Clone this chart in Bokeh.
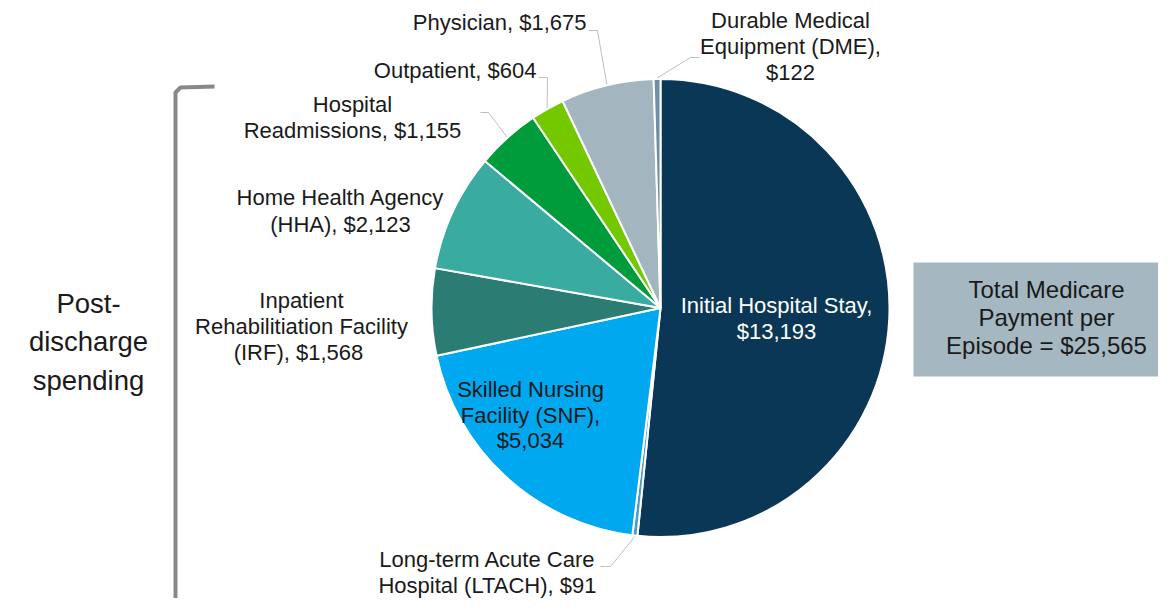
import math
from bokeh.plotting import figure
from bokeh.models import Range1d, ColumnDataSource
from bokeh.core.properties import value
from bokeh.embed import file_html
from bokeh.resources import INLINE

# ---- data ----
categories = ["Initial Hospital Stay", "Long-term Acute Care Hospital (LTACH)",
              "Skilled Nursing Facility (SNF)", "Inpatient Rehabilitiation Facility (IRF)",
              "Home Health Agency (HHA)", "Hospital Readmissions", "Outpatient",
              "Physician", "Durable Medical Equipment (DME)"]
payments = [13193, 91, 5034, 1568, 2123, 1155, 604, 1675, 122]
colors = ["#0A3756", "#4A9BD0", "#00A8F0", "#2B7D74", "#3AABA0",
          "#009B3A", "#73C800", "#A3B5BF", "#6F8EA3"]
label_lines = [
    ["Initial Hospital Stay,", "$13,193"],
    ["Long-term Acute Care", "Hospital (LTACH), $91"],
    ["Skilled Nursing", "Facility (SNF),", "$5,034"],
    ["Inpatient", "Rehabilitiation Facility", "(IRF),  $1,568"],
    ["Home Health Agency", "(HHA), $2,123"],
    ["Hospital", "Readmissions, $1,155"],
    ["Outpatient, $604"],
    ["Physician, $1,675"],
    ["Durable Medical", "Equipment (DME),", "$122"],
]
total_text = ["Total Medicare", "Payment per", "Episode = $25,565"]
side_text = ["Post-", "discharge", "spending"]

# ---- layout (picture pixel coords -> data: x = px, y = H - py) ----
W, H = 1158, 598
def Y(py):
    return H - py

p = figure(width=W, height=H, output_backend="svg", toolbar_location=None,
           x_range=Range1d(0, W), y_range=Range1d(0, H),
           x_axis_type=None, y_axis_type=None, min_border=0)
p.grid.visible = False
p.outline_line_color = None
p.background_fill_color = "white"
p.border_fill_color = "white"

FONT = value("Liberation Sans")
cx, cy, R = 660, Y(307.5), 229

total = sum(payments)
starts, ends, mids = [], [], []
acc = 0.0
for v in payments:
    a0 = math.pi / 2 - acc / total * 2 * math.pi
    acc += v
    a1 = math.pi / 2 - acc / total * 2 * math.pi
    starts.append(a0); ends.append(a1); mids.append((a0 + a1) / 2)

src = ColumnDataSource(dict(start=starts, end=ends, color=colors, cat=categories))
p.wedge(x=cx, y=cy, radius=R, radius_units="screen", start_angle="start", end_angle="end",
        direction="clock", fill_color="color", line_color="white", line_width=2, source=src)

# label placement: (x, first line page-y, line step, align, text color)
placement = {
    0: (776, 305, 26, "center", "white"),
    1: (487, 559, 25.5, "center", "#1a1a1a"),
    2: (530, 389, 25.5, "center", "#1a1a1a"),
    3: (301, 300, 26, "center", "#1a1a1a"),
    4: (340, 197, 27, "center", "#1a1a1a"),
    5: (352, 104, 26, "center", "#1a1a1a"),
    6: (536, 70, 26, "right", "#1a1a1a"),
    7: (586, 22, 26, "right", "#1a1a1a"),
    8: (790, 20, 26, "center", "#1a1a1a"),
}
for i, lines in enumerate(label_lines):
    x, y0, step, align, col = placement[i]
    xs = [x] * len(lines)
    ys = [Y(y0 + k * step) for k in range(len(lines))]
    p.text(x=xs, y=ys, text=lines, text_font=FONT, text_font_size="22px",
           text_align=align, text_baseline="middle", text_color=col)

# leader lines: from slice edge (computed from the slice's mid angle) to elbow and label
leaders = {
    1: [(610, 566), (600, 566)],
    5: [(488, 112), (480, 112)],
    6: [(547, 77), (538, 77)],
    7: [(597, 30), (588, 30)],
    8: [(690, 57), (699, 57)],
}
for i, pts in leaders.items():
    ex = cx + (R + 1) * math.cos(mids[i])
    ey = cy + (R + 1) * math.sin(mids[i])
    xs = [ex] + [q[0] for q in pts]
    ys = [ey] + [Y(q[1]) for q in pts]
    p.line(xs, ys, line_color="#BFBFBF", line_width=1)

# total box
p.quad(left=913, right=1180, top=Y(262), bottom=Y(376), fill_color="#A5B7C1", line_color=None)
p.text(x=[1046] * 3, y=[Y(289), Y(317), Y(345)], text=total_text, text_font=FONT,
       text_font_size="24px", text_align="center", text_baseline="middle", text_color="#1a1a1a")

# bracket
p.line([214, 180, 175, 175, 214], [Y(86), Y(87), Y(92), Y(610), Y(610)],
       line_color="#888888", line_width=4, line_join="round")
p.text(x=[88] * 3, y=[Y(303), Y(341), Y(380)], text=side_text, text_font=FONT,
       text_font_size="27.5px", text_align="center", text_baseline="middle", text_color="#1a1a1a")

open("out.html", "w").write(file_html(p, INLINE))
